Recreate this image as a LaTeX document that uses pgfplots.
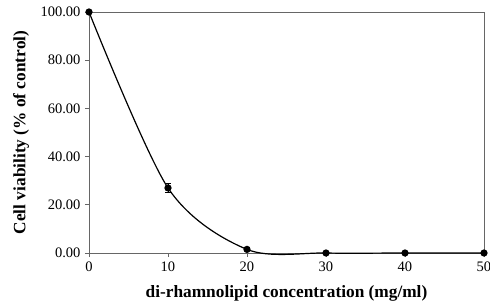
\documentclass[border=0pt]{standalone}
\usepackage{pgfplots}
\pgfplotsset{compat=1.18}
\usepackage{fontspec}
\setmainfont{Liberation Serif}
\begin{document}
\begin{tikzpicture}
\useasboundingbox (-89pt,-52pt) rectangle (401pt,253pt);
\begin{axis}[
  at={(0pt,0pt)}, anchor=origin,
  scale only axis, width=395pt, height=241pt,
  xmin=0, xmax=50, ymin=0, ymax=100,
  xtick={0,10,20,30,40,50},
  ytick={0,20,40,60,80,100},
  yticklabel={\pgfmathprintnumber[fixed,fixed zerofill,precision=2]{\tick}},
  /pgf/number format/assume math mode=true,
  tick align=outside, tick pos=left,
  major tick length=4pt,
  axis line style={black!60, line width=0.8pt},
  every tick/.style={black!60, line width=0.8pt},
  tick label style={font=\fontsize{14.5}{16}\selectfont},
  xticklabel style={yshift=-1pt},
  yticklabel style={xshift=-1pt},
  xlabel={\textbf{di-rhamnolipid concentration (mg/ml)}},
  ylabel={\textbf{Cell viability (\% of control)}},
  label style={font=\fontsize{17.3}{20}\selectfont},
  xlabel style={at={(axis description cs:0.5,-0.166)}, anchor=center},
  ylabel style={at={(axis description cs:-0.172,0.5)}, anchor=center},
  clip=false,
]
\addplot[black, line width=1.2pt, smooth, tension=0.5, mark=*, mark size=3pt,
  error bars/.cd, y dir=both, y explicit, error mark options={rotate=90, mark size=3pt, line width=0.9pt}, error bar style={line width=0.9pt}]
  coordinates {
  (0,100) +- (0,0)
  (10,27) +- (0,2)
  (20,1.5) +- (0,0)
  (30,0) +- (0,0)
  (40,0) +- (0,0)
  (50,0) +- (0,0)
  };
\end{axis}
\end{tikzpicture}
\end{document}
